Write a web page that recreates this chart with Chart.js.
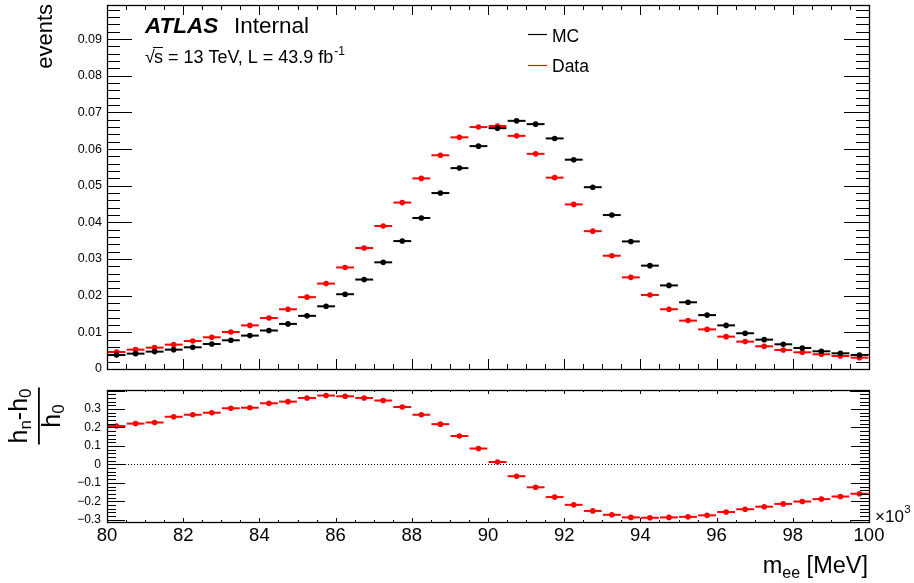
<!DOCTYPE html>
<html>
<head>
<meta charset="utf-8">
<script src="https://cdn.jsdelivr.net/npm/chart.js@4.4.1/dist/chart.umd.min.js"></script>
<style>
  body { margin: 0; background: #fff; }
  #wrap { position: relative; width: 914px; height: 583px; }
  #wrap canvas { position: absolute; left: 0; top: 0; }
</style>
</head>
<body>
<div id="wrap">
  <canvas id="topCanvas" width="914" height="583"></canvas>
  <canvas id="ratioCanvas" width="914" height="583"></canvas>
</div>
<script>
// bin centres of m_ee (x10^3 MeV), 0.5 wide bins
const massBins = [80.25, 80.75, 81.25, 81.75, 82.25, 82.75, 83.25, 83.75, 84.25, 84.75,
  85.25, 85.75, 86.25, 86.75, 87.25, 87.75, 88.25, 88.75, 89.25, 89.75,
  90.25, 90.75, 91.25, 91.75, 92.25, 92.75, 93.25, 93.75, 94.25, 94.75,
  95.25, 95.75, 96.25, 96.75, 97.25, 97.75, 98.25, 98.75, 99.25, 99.75];
const halfBin = 0.25;

const mcEvents = [0.0038, 0.00419, 0.00474, 0.00528, 0.00592, 0.00683, 0.00783, 0.00911, 0.0105, 0.0123,
  0.0145, 0.0171, 0.0204, 0.0244, 0.0291, 0.0349, 0.0412, 0.0480, 0.0548, 0.0608,
  0.0657, 0.0677, 0.0668, 0.0629, 0.0571, 0.0496, 0.0420, 0.0348, 0.0282, 0.0228,
  0.0182, 0.0147, 0.0119, 0.00975, 0.00801, 0.00674, 0.00574, 0.00483, 0.00428, 0.00383];

const dataEvents = [0.00464, 0.00528, 0.00583, 0.00665, 0.00765, 0.00865, 0.0101, 0.0119, 0.0139, 0.0163,
  0.0196, 0.0233, 0.0277, 0.0330, 0.0390, 0.0454, 0.0520, 0.0583, 0.0632, 0.0660,
  0.0663, 0.0636, 0.0587, 0.0522, 0.0449, 0.0376, 0.0309, 0.0250, 0.0202, 0.0163,
  0.0132, 0.0108, 0.00883, 0.00747, 0.00619, 0.00519, 0.00455, 0.00401, 0.00355, 0.00310];

const ratioValues = [0.208, 0.221, 0.227, 0.258, 0.269, 0.280, 0.304, 0.307, 0.331, 0.340,
  0.360, 0.373, 0.369, 0.360, 0.346, 0.311, 0.269, 0.218, 0.154, 0.086,
  0.013, -0.064, -0.124, -0.177, -0.219, -0.252, -0.273, -0.287, -0.289, -0.287,
  -0.284, -0.276, -0.258, -0.243, -0.229, -0.214, -0.201, -0.188, -0.174, -0.159];

const xTickLabels = [80, 82, 84, 86, 88, 90, 92, 94, 96, 98, 100];
const topYTicks = [0, 0.01, 0.02, 0.03, 0.04, 0.05, 0.06, 0.07, 0.08, 0.09];
const ratioYTicks = [-0.3, -0.2, -0.1, 0, 0.1, 0.2, 0.3];

const FONT = '"Liberation Sans", Arial, sans-serif';

function points(ys) {
  return massBins.map((x, i) => ({ x: x, y: ys[i] }));
}

function line(ctx, x1, y1, x2, y2) {
  ctx.beginPath();
  ctx.moveTo(x1, y1);
  ctx.lineTo(x2, y2);
  ctx.stroke();
}

// horizontal bin-width bars under each marker
const binBars = {
  id: 'binBars',
  beforeDatasetDraw(chart, args) {
    const ctx = chart.ctx;
    const xs = chart.scales.x, ys = chart.scales.y;
    const ds = chart.data.datasets[args.index];
    ctx.save();
    ctx.strokeStyle = ds.pointBackgroundColor;
    ctx.lineWidth = 2;
    ds.data.forEach(p => {
      const y = ys.getPixelForValue(p.y);
      line(ctx, xs.getPixelForValue(p.x - halfBin) + 0.6, y, xs.getPixelForValue(p.x + halfBin) - 0.6, y);
    });
    ctx.restore();
  }
};

// ROOT style frame with inward ticks on all four sides
function frameTicks(o) {
  return {
    id: 'frameTicks',
    afterDatasetsDraw(chart) {
      const ctx = chart.ctx, a = chart.chartArea;
      const xs = chart.scales.x, ys = chart.scales.y;
      ctx.save();
      ctx.strokeStyle = '#000';
      ctx.lineWidth = 1;
      const nx = Math.round((xs.max - xs.min) / o.xMinor);
      for (let i = 0; i <= nx; i++) {
        const v = xs.min + i * o.xMinor;
        const px = Math.round(xs.getPixelForValue(v)) + 0.5;
        const major = Math.abs(v / o.xMajor - Math.round(v / o.xMajor)) < 1e-6;
        const L = major ? o.xMajorLen : o.xMinorLen;
        line(ctx, px, a.bottom, px, a.bottom - L);
        line(ctx, px, a.top, px, a.top + L);
      }
      const k0 = Math.ceil(ys.min / o.yMinor - 1e-6), k1 = Math.floor(ys.max / o.yMinor + 1e-6);
      for (let k = k0; k <= k1; k++) {
        const v = k * o.yMinor;
        const py = Math.round(ys.getPixelForValue(v)) + 0.5;
        const major = Math.abs(v / o.yMajor - Math.round(v / o.yMajor)) < 1e-6;
        const L = major ? o.yMajorLen : o.yMinorLen;
        line(ctx, a.left, py, a.left + L, py);
        line(ctx, a.right, py, a.right - L, py);
      }
      ctx.lineWidth = 1.3;
      ctx.strokeRect(Math.round(a.left) + 0.5, Math.round(a.top) + 0.5,
        Math.round(a.right - a.left), Math.round(a.bottom - a.top));
      ctx.restore();
    }
  };
}

const topText = {
  id: 'topText',
  afterDraw(chart) {
    const ctx = chart.ctx, ys = chart.scales.y, a = chart.chartArea;
    ctx.save();
    ctx.fillStyle = '#000';
    // y tick labels
    ctx.font = '12.5px ' + FONT;
    ctx.textAlign = 'right';
    ctx.textBaseline = 'middle';
    topYTicks.forEach(v => ctx.fillText(v === 0 ? '0' : v.toFixed(2), a.left - 5, ys.getPixelForValue(v)));
    ctx.textBaseline = 'alphabetic';

    // y title
    ctx.save();
    ctx.translate(52, 4);
    ctx.rotate(-Math.PI / 2);
    ctx.font = '22px ' + FONT;
    ctx.textAlign = 'right';
    ctx.fillText('events', 0, 0);
    ctx.restore();

    // ATLAS label
    ctx.textAlign = 'left';
    ctx.font = 'italic bold 22.5px ' + FONT;
    ctx.fillText('ATLAS', 145, 33);
    ctx.font = '22.5px ' + FONT;
    ctx.fillText('Internal', 234, 33);

    // sqrt(s) line
    let x = 145;
    const base = 63;
    ctx.font = '18px ' + FONT;
    ctx.fillText('\u221A', x, base);
    x += ctx.measureText('\u221A').width - 1;
    const sw = ctx.measureText('s').width;
    ctx.fillText('s', x, base);
    ctx.lineWidth = 1;
    line(ctx, x - 1, base - 15.5, x + sw, base - 15.5);
    x += sw;
    const rest = ' = 13 TeV, L = 43.9 fb';
    ctx.fillText(rest, x, base);
    x += ctx.measureText(rest).width;
    ctx.font = '12px ' + FONT;
    ctx.fillText('-1', x + 1, base - 8);

    // legend
    ctx.lineWidth = 1.2;
    ctx.strokeStyle = '#000';
    line(ctx, 528, 34.5, 547, 34.5);
    ctx.strokeStyle = '#ff0000';
    line(ctx, 528, 65.5, 547, 65.5);
    ctx.font = '17.5px ' + FONT;
    ctx.fillText('MC', 552, 42);
    ctx.fillText('Data', 552, 72);
    ctx.restore();
  }
};

const ratioText = {
  id: 'ratioText',
  beforeDatasetsDraw(chart) {
    const ctx = chart.ctx, ys = chart.scales.y, a = chart.chartArea;
    const y0 = Math.round(ys.getPixelForValue(0)) + 0.5;
    ctx.save();
    ctx.strokeStyle = '#000';
    ctx.lineWidth = 1;
    ctx.setLineDash([1, 2]);
    line(ctx, a.left, y0, a.right, y0);
    ctx.restore();
  },
  afterDraw(chart) {
    const ctx = chart.ctx, xs = chart.scales.x, ys = chart.scales.y, a = chart.chartArea;
    ctx.save();
    ctx.fillStyle = '#000';
    ctx.font = '12px ' + FONT;
    ctx.textAlign = 'right';
    ctx.textBaseline = 'middle';
    ratioYTicks.forEach(v => {
      const s = v === 0 ? '0' : (v < 0 ? '\u2212' + Math.abs(v).toFixed(1) : v.toFixed(1));
      ctx.fillText(s, a.left - 6, ys.getPixelForValue(v));
    });
    ctx.textBaseline = 'alphabetic';
    ctx.textAlign = 'center';
    ctx.font = '18.5px ' + FONT;
    xTickLabels.forEach(v => ctx.fillText(String(v), xs.getPixelForValue(v), 541));

    // x10^3
    ctx.textAlign = 'left';
    ctx.font = '17px ' + FONT;
    ctx.fillText('\u00D710', 875, 522);
    const w10 = ctx.measureText('\u00D710').width;
    ctx.font = '11.5px ' + FONT;
    ctx.fillText('3', 875 + w10 + 0.5, 513);

    // x title m_ee [MeV], right aligned at the frame edge
    const big = '23.5px ' + FONT, small = '16px ' + FONT;
    ctx.font = big; const wm = ctx.measureText('m').width;
    const wr = ctx.measureText(' [MeV]').width;
    ctx.font = small; const we = ctx.measureText('ee').width;
    let x = a.right - 1 - (wm + we + wr);
    ctx.font = big; ctx.fillText('m', x, 573); x += wm;
    ctx.font = small; ctx.fillText('ee', x, 578); x += we;
    ctx.font = big; ctx.fillText(' [MeV]', x, 573);

    // y title: (h_n - h_0) / h_0
    ctx.save();
    ctx.translate(39, 416);
    ctx.rotate(-Math.PI / 2);
    const fb = '25px ' + FONT, fs = '17px ' + FONT;
    const parts = [['h', fb, 0], ['n', fs, 4], ['-h', fb, 0], ['0', fs, 4]];
    let wn = 0;
    parts.forEach(p => { ctx.font = p[1]; wn += ctx.measureText(p[0]).width; });
    let u = -wn / 2;
    parts.forEach(p => { ctx.font = p[1]; ctx.fillText(p[0], u, -12 + p[2]); u += ctx.measureText(p[0]).width; });
    ctx.font = fb; const wh = ctx.measureText('h').width;
    ctx.font = fs; const w0 = ctx.measureText('0').width;
    u = -(wh + w0) / 2;
    ctx.font = fb; ctx.fillText('h', u, 21);
    ctx.font = fs; ctx.fillText('0', u + wh, 25);
    ctx.fillRect(-wn / 2 - 1, -1, wn + 2, 1.8);
    ctx.restore();
    ctx.restore();
  }
};

function baseOptions(yMin, yMax, padding) {
  return {
    responsive: false,
    animation: false,
    devicePixelRatio: 1,
    layout: { padding: padding },
    plugins: { legend: { display: false }, tooltip: { enabled: false } },
    scales: {
      x: { type: 'linear', min: 80, max: 100, display: false },
      y: { type: 'linear', min: yMin, max: yMax, display: false }
    }
  };
}

function markerSet(label, ys, color) {
  return {
    label: label,
    data: points(ys),
    pointBackgroundColor: color,
    pointBorderColor: color,
    pointBorderWidth: 0,
    pointRadius: 2.8,
    showLine: false
  };
}

new Chart(document.getElementById('topCanvas'), {
  type: 'scatter',
  data: {
    datasets: [markerSet('MC', mcEvents, '#000000'), markerSet('Data', dataEvents, '#ff0000')]
  },
  options: baseOptions(0, 0.0993, { left: 107, right: 45, top: 5, bottom: 214 }),
  plugins: [binBars, frameTicks({ xMinor: 0.5, xMajor: 2, xMajorLen: 10, xMinorLen: 5,
    yMinor: 0.002, yMajor: 0.01, yMajorLen: 25, yMinorLen: 13 }), topText]
});

new Chart(document.getElementById('ratioCanvas'), {
  type: 'scatter',
  data: {
    datasets: [markerSet('(Data-MC)/MC', ratioValues, '#ff0000')]
  },
  options: baseOptions(-0.312, 0.403, { left: 107, right: 45, top: 390, bottom: 61 }),
  plugins: [binBars, frameTicks({ xMinor: 0.5, xMajor: 2, xMajorLen: 4, xMinorLen: 2,
    yMinor: 0.02, yMajor: 0.1, yMajorLen: 18, yMinorLen: 9 }), ratioText]
});
</script>
</body>
</html>
